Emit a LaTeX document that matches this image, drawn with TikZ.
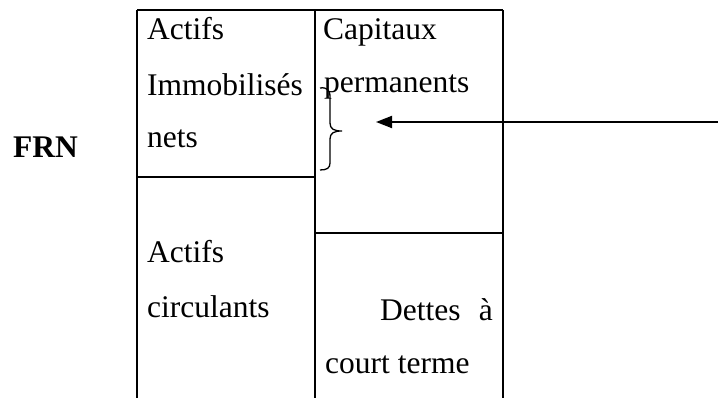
\documentclass[tikz,border=0pt]{standalone}
\usepackage{fontspec}
\setmainfont{Liberation Serif}
\usetikzlibrary{arrows.meta}
\begin{document}
\begin{tikzpicture}[x=1pt,y=-1pt,
    rule/.style={draw=black,line width=1.8pt},
    cell/.style={anchor=base west,inner sep=0pt,font=\fontsize{31.5}{38}\selectfont},
    cellR/.style={cell,anchor=base east},
    title/.style={cell,font=\fontsize{31.5}{38}\selectfont\bfseries},
    pointer/.style={draw=black,line width=1.8pt,-{Triangle[length=16pt,width=12pt]}}]
  \useasboundingbox (0,0) rectangle (718,398);

  % grid corners of the balance sheet
  \coordinate (tl) at (137,10);
  \coordinate (tm) at (315,10);
  \coordinate (tr) at (503,10);
  \coordinate (bl) at (137,398);
  \coordinate (bm) at (315,398);
  \coordinate (br) at (503,398);
  \coordinate (dl) at (137,177);
  \coordinate (dm) at (315,177);
  \coordinate (el) at (315,233);
  \coordinate (er) at (503,233);

  % frame and separators
  \draw[rule] (tl) -- (tr);
  \draw[rule] (tl) -- (bl);
  \draw[rule] (tm) -- (bm);
  \draw[rule] (tr) -- (br);
  \draw[rule] (dl) -- (dm);
  \draw[rule] (el) -- (er);

  % labels
  \node[title] (frn) at (13,158) {FRN};
  \node[cell] (a1) at (147,40) {Actifs};
  \node[cell] (a2) at (147,96) {Immobilisés};
  \node[cell] (a3) at (147,148) {nets};
  \node[cell] (c1) at (323,40) {Capitaux};
  \node[cell] (c2) at (324,93) {permanents};
  \node[cell] (b1) at (147,263) {Actifs};
  \node[cell] (b2) at (147,318) {circulants};
  \node[cell] (d1) at (380,320) {Dettes};
  \node[cellR] (d2) at (493,320) {à};
  \node[cell] (d3) at (325,373) {court terme};

  % brace marking the working capital
  \coordinate (bracetip) at (342,131);
  \draw[line width=1.3pt] (320,88) .. controls (327,87) and (330,90) .. (330,97)
    -- (330,123) .. controls (330,129) and (334,131) .. (bracetip)
    .. controls (334,131) and (330,133) .. (330,139)
    -- (330,163) .. controls (330,168) and (327,170) .. (320,170);

  % pointer arrow
  \coordinate (start) at (718,122);
  \coordinate (tip) at (376,122);
  \draw[pointer] (start) -- (tip);
\end{tikzpicture}
\end{document}
